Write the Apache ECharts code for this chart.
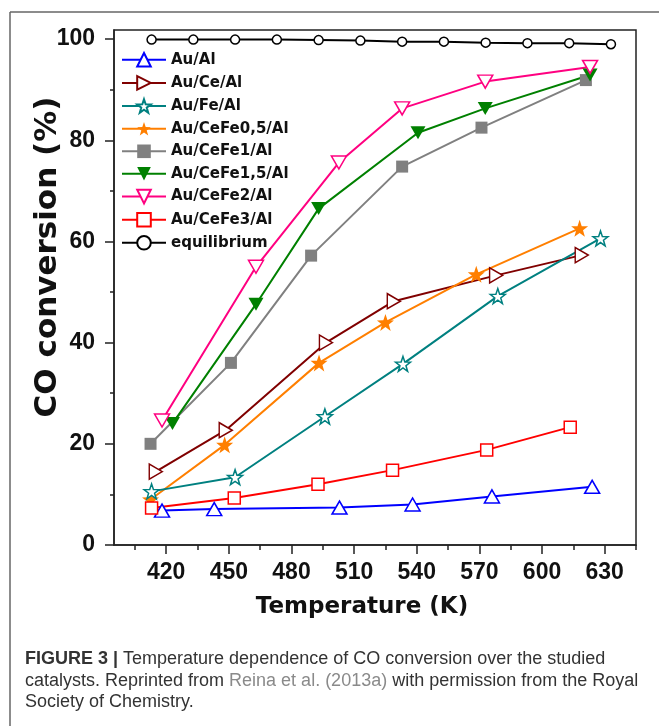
<!DOCTYPE html>
<html>
<head>
<meta charset="utf-8">
<script src="https://cdn.jsdelivr.net/npm/echarts@6/dist/echarts.min.js"></script>
<style>
body{margin:0;background:#fff;}
#main{width:659px;height:726px;}
</style>
</head>
<body>
<div id="main"></div>
<script>
// temperatures (K) and CO conversion (%)
var auAlT = [418, 443, 503, 538, 576, 624];
var auAlY = [6.8, 7.1, 7.4, 8.0, 9.6, 11.5];
var auCeT = [415, 448.5, 496.5, 529, 578, 619];
var auCeY = [14.5, 22.7, 40, 48.2, 53.3, 57.3];
var auFeT = [413, 453, 496, 533.4, 578.8, 628];
var auFeY = [10.6, 13.4, 25.4, 35.8, 49.2, 60.6];
var ceFe05T = [412.5, 448, 493.2, 525, 568.5, 618];
var ceFe05Y = [9.0, 19.8, 36, 44, 53.5, 62.6];
var ceFe1T = [412.5, 451, 489.4, 533, 571, 621];
var ceFe1Y = [20, 36, 57.2, 74.8, 82.5, 91.9];
var ceFe15T = [423, 463, 493, 540.6, 572.8, 623];
var ceFe15Y = [24, 47.6, 66.5, 81.5, 86.3, 92.9];
var ceFe2T = [418, 463, 502.7, 533, 572.8, 623];
var ceFe2Y = [24.6, 55, 75.6, 86.3, 91.6, 94.5];
var ceFe3T = [413, 452.6, 492.7, 528.4, 573.5, 613.5];
var ceFe3Y = [7.3, 9.3, 12, 14.8, 18.8, 23.3];
var equilT = [413, 433, 453, 473, 493, 513, 533, 553, 573, 593, 613, 633];
var equilY = [99.9, 99.9, 99.9, 99.9, 99.8, 99.7, 99.5, 99.5, 99.3, 99.2, 99.2, 99.0];

var seriesNames = ['Au/Al', 'Au/Ce/Al', 'Au/Fe/Al', 'Au/CeFe0,5/Al', 'Au/CeFe1/Al',
  'Au/CeFe1,5/Al', 'Au/CeFe2/Al', 'Au/CeFe3/Al', 'equilibrium'];

var tempTicks = [420, 450, 480, 510, 540, 570, 600, 630];
var tempMinor = [405, 435, 465, 495, 525, 555, 585, 615, 645];
var convTicks = [0, 20, 40, 60, 80, 100];
var convMinor = [10, 30, 50, 70, 90];

var star = 'path://M0,-10L2.35,-3.24L9.51,-3.09L3.8,1.24L5.88,8.09L0,4L-5.88,8.09L-3.8,1.24L-9.51,-3.09L-2.35,-3.24Z';

function pairs(xs, ys) {
  return xs.map(function (x, i) { return [x, ys[i]]; });
}

function mk(name, xs, ys, color, symbol, size, open, rot) {
  return {
    name: name,
    type: 'line',
    data: pairs(xs, ys),
    symbol: symbol,
    symbolSize: size,
    symbolRotate: rot || 0,
    showAllSymbol: true,
    lineStyle: { color: color, width: 2 },
    itemStyle: open ? { color: '#fff', borderColor: color, borderWidth: 1.5 }
                    : { color: color, borderColor: color, borderWidth: 0 },
    emphasis: { disabled: true },
    animation: false
  };
}

var chart = echarts.init(document.getElementById('main'));
var font = 'Liberation Sans, Arial, sans-serif';
var capFont = 'Liberation Sans Narrow, Liberation Sans';

var option = {
  backgroundColor: '#fff',
  animation: false,
  grid: { left: 114, right: 23, top: 30, bottom: 181, show: true, borderColor: '#222', borderWidth: 1.5 },
  legend: {
    orient: 'vertical', left: 116, top: 47, itemWidth: 44, itemHeight: 17, itemGap: 7.5,
    data: seriesNames,
    textStyle: { fontFamily: 'DejaVu Sans', fontWeight: 'bold', fontSize: 15, color: '#111' }
  },
  xAxis: [{
    type: 'value', min: 395, max: 645, position: 'bottom',
    axisLine: { lineStyle: { color: '#222', width: 1.5 } },
    axisTick: { customValues: tempTicks, length: 9, lineStyle: { color: '#222', width: 1.5 } },
    axisLabel: { customValues: tempTicks, margin: 16, fontFamily: font, fontWeight: 'bold', fontSize: 23, color: '#111' },
    splitLine: { show: false }
  }, {
    type: 'value', min: 395, max: 645, position: 'bottom',
    axisLine: { show: false },
    axisTick: { customValues: tempMinor, length: 5, lineStyle: { color: '#222', width: 1.5 } },
    axisLabel: { show: false },
    splitLine: { show: false }
  }],
  yAxis: [{
    type: 'value', min: 0, max: 101.8, position: 'left',
    axisLine: { show: true, lineStyle: { color: '#222', width: 1.5 } },
    axisTick: { show: true, customValues: convTicks, length: 9, lineStyle: { color: '#222', width: 1.5 } },
    axisLabel: { customValues: convTicks, margin: 19, fontFamily: font, fontWeight: 'bold', fontSize: 23, color: '#111' },
    splitLine: { show: false }
  }, {
    type: 'value', min: 0, max: 101.8, position: 'left',
    axisLine: { show: false },
    axisTick: { show: true, customValues: convMinor, length: 4, lineStyle: { color: '#222', width: 1.5 } },
    axisLabel: { show: false },
    splitLine: { show: false }
  }],
  series: [
    mk('equilibrium', equilT, equilY, '#000', 'circle', 9, true),
    mk('Au/Al', auAlT, auAlY, '#0000ff', 'triangle', [15, 13], true),
    mk('Au/Ce/Al', auCeT, auCeY, '#800000', 'triangle', [15, 13], true, -90),
    mk('Au/CeFe0,5/Al', ceFe05T, ceFe05Y, '#ff7f00', star, 17, false),
    mk('Au/Fe/Al', auFeT, auFeY, '#008080', star, 15, true),
    mk('Au/CeFe1/Al', ceFe1T, ceFe1Y, '#808080', 'rect', 12, false),
    mk('Au/CeFe1,5/Al', ceFe15T, ceFe15Y, '#008000', 'triangle', [15, 13], false, 180),
    mk('Au/CeFe2/Al', ceFe2T, ceFe2Y, '#ff0080', 'triangle', [15, 13], true, 180),
    mk('Au/CeFe3/Al', ceFe3T, ceFe3Y, '#ff0000', 'rect', 12, true)
  ],
  graphic: [
    { type: 'line', shape: { x1: 10, y1: 12, x2: 659, y2: 12 }, style: { stroke: '#666', lineWidth: 1.5 } },
    { type: 'line', shape: { x1: 10, y1: 12, x2: 10, y2: 726 }, style: { stroke: '#666', lineWidth: 1.5 } },
    { type: 'text', x: 48, y: 257, rotation: Math.PI / 2,
      style: { text: 'CO conversion (%)', fontFamily: 'DejaVu Sans', fontWeight: 'bold', fontSize: 31, fill: '#111', align: 'center', verticalAlign: 'middle' } },
    { type: 'text', x: 362, y: 607,
      style: { text: 'Temperature (K)', fontFamily: 'DejaVu Sans', fontWeight: 'bold', fontSize: 23, fill: '#111', align: 'center', verticalAlign: 'middle' } },
    { type: 'text', x: 25, y: 659,
      style: { text: '{b|FIGURE 3 |} Temperature dependence of CO conversion over the studied',
        fontFamily: capFont, fontSize: 18, fill: '#333', verticalAlign: 'middle',
        rich: { b: { fontFamily: capFont, fontWeight: 'bold', fontSize: 18, fill: '#333' } } } },
    { type: 'text', x: 25, y: 681,
      style: { text: 'catalysts. Reprinted from {g|Reina et al. (2013a)} with permission from the Royal',
        fontFamily: capFont, fontSize: 18, fill: '#333', verticalAlign: 'middle',
        rich: { g: { fontFamily: capFont, fontSize: 18, fill: '#8a8a8a' } } } },
    { type: 'text', x: 25, y: 702,
      style: { text: 'Society of Chemistry.', fontFamily: capFont, fontSize: 18, fill: '#333', verticalAlign: 'middle' } }
  ]
};
chart.setOption(option);
</script>
</body>
</html>
